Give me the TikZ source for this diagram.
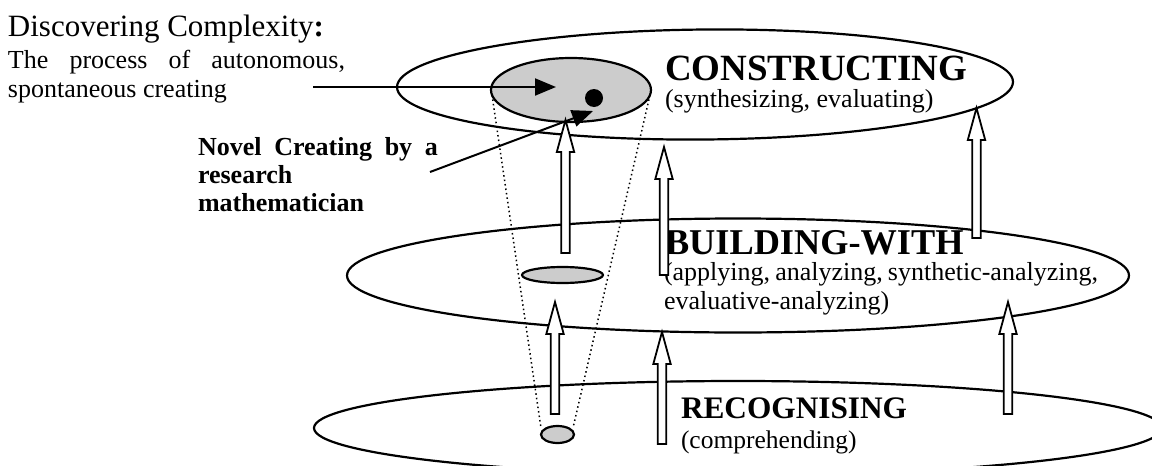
\documentclass[tikz,border=0pt]{standalone}
\usepackage{fontspec}
\setmainfont{Liberation Serif}
\usetikzlibrary{arrows.meta}
\definecolor{cellgray}{RGB}{204,204,204}
\tikzset{
  lbl/.style={anchor=base west, inner sep=0pt, outer sep=0pt},
  head/.style={font=\fontsize{37}{40}\selectfont\bfseries},
  body/.style={font=\fontsize{26}{29}\selectfont},
  bodybold/.style={font=\fontsize{26}{29}\selectfont\bfseries},
  layer/.style={draw, line width=2.2pt},
  spot/.style={draw, line width=2.2pt, fill=cellgray},
  cone/.style={line width=1.5pt, dash pattern=on 1.5pt off 3pt},
  pointer/.style={line width=2pt, -{Triangle[length=21pt,width=17pt]}},
  blockarrow/.style={draw, fill=white, line width=1.8pt, line join=miter},
}
\newcommand{\blkarrow}[3]{%
  \draw[blockarrow] (#1-4.3,#3) -- (#1-4.3,#2+32) -- (#1-8.7,#2+32) -- (#1,#2)
    -- (#1+8.7,#2+32) -- (#1+4.3,#2+32) -- (#1+4.3,#3) -- cycle;}
\begin{document}
\begin{tikzpicture}[x=1pt,y=-1pt]
\useasboundingbox (0,0) rectangle (1152,466);
% layers
\draw[layer] (738,428) ellipse [x radius=424pt, y radius=47pt];
\draw[layer] (738,275.5) ellipse [x radius=391pt, y radius=57pt];
\draw[layer, rotate around={0.5:(705,84.5)}] (705,84.5) ellipse [x radius=308pt, y radius=55pt];
% cone
\draw[cone] (492,95) -- (541,428);
\draw[cone] (650,95) -- (573,428);
% spots
\draw[spot] (571,90) ellipse [x radius=80pt, y radius=32pt];
\draw[spot] (562.5,275) ellipse [x radius=40.5pt, y radius=8pt];
\draw[spot] (557.5,434.5) ellipse [x radius=16.5pt, y radius=8.5pt];
\fill (594,98) circle [radius=9pt];
% texts
\node[lbl, font=\fontsize{31}{34}\selectfont] (title) at (8,36) {Discovering Complexity{\bfseries:}};
\node[lbl, body] (proc1) at (8,68) {\makebox[337pt][s]{The process of autonomous,}};
\node[lbl, body] (proc2) at (8,97) {spontaneous creating};
\node[lbl, bodybold] (novel1) at (198,155) {\makebox[240pt][s]{Novel Creating by a}};
\node[lbl, bodybold] (novel2) at (198,183) {research};
\node[lbl, bodybold] (novel3) at (198,211) {mathematician};
\node[lbl, head] (cons) at (665,80) {CONSTRUCTING};
\node[lbl, body] (consd) at (665,107) {(synthesizing, evaluating)};
\node[lbl, font=\fontsize{36.3}{40}\selectfont\bfseries] (build) at (665,254) {BUILDING-WITH};
\node[lbl, body] (buildd1) at (664,280) {\makebox[434pt][s]{(applying, analyzing, synthetic-analyzing,}};
\node[lbl, body] (buildd2) at (664,309) {evaluative-analyzing)};
\node[lbl, font=\fontsize{31.3}{34}\selectfont\bfseries] (recog) at (681,418) {RECOGNISING};
\node[lbl, font=\fontsize{25.5}{29}\selectfont] (recogd) at (681,448) {(comprehending)};
% block arrows
\blkarrow{565.5}{120}{253}
\blkarrow{555}{302}{414}
\blkarrow{664}{147}{275}
\blkarrow{662}{332}{444}
\blkarrow{976.5}{108}{238}
\blkarrow{1008}{302}{414}
% pointers
\coordinate (procStart) at (313,87);
\coordinate (procTip) at (556,87);
\coordinate (novelStart) at (430,172);
\coordinate (novelTip) at (593,111);
\draw[pointer] (procStart) -- (procTip);
\draw[pointer] (novelStart) -- (novelTip);
\end{tikzpicture}
\end{document}
